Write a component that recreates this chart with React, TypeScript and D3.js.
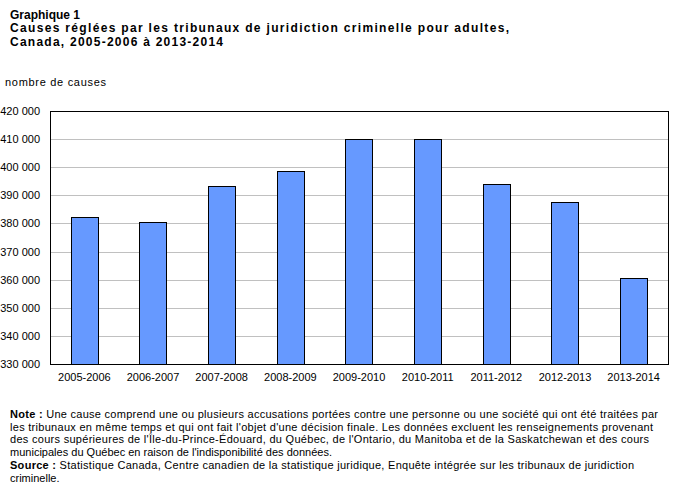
import * as d3 from "d3";
import React, { useEffect, useRef } from "react";

// chart data
const periods = [
  "2005-2006",
  "2006-2007",
  "2007-2008",
  "2008-2009",
  "2009-2010",
  "2010-2011",
  "2011-2012",
  "2012-2013",
  "2013-2014",
];
const cases = [382200, 380400, 393200, 398600, 410000, 410000, 393900, 387500, 360500];
const yTicks = [330000, 340000, 350000, 360000, 370000, 380000, 390000, 400000, 410000, 420000];

const titleLines = [
  "Graphique 1",
  "Causes réglées par les tribunaux de juridiction criminelle pour adultes,",
  "Canada, 2005-2006  à 2013-2014",
];
const noteLines = [
  "Une cause comprend une ou plusieurs accusations portées contre une personne ou une société qui ont été traitées par",
  "les tribunaux en même temps et qui ont fait l'objet d'une décision finale. Les données excluent les renseignements provenant",
  "des cours supérieures de l'Île-du-Prince-Édouard, du Québec, de l'Ontario, du Manitoba et de la Saskatchewan et des cours",
  "municipales du Québec en raison de l'indisponibilité des données.",
];
const sourceLines = [
  "Statistique Canada, Centre canadien de la statistique juridique, Enquête intégrée sur les tribunaux de juridiction",
  "criminelle.",
];

const App: React.FC = () => {
  const ref = useRef<HTMLDivElement>(null);

  useEffect(() => {
    if (!ref.current) return;
    document.body.style.margin = "0";
    d3.select(ref.current).selectAll("*").remove();

    const width = 678,
      height = 486,
      margin = { top: 111, right: 10, bottom: 122, left: 50 };
    const font = "Arial, 'Liberation Sans', sans-serif";

    const svg = d3
      .select(ref.current)
      .append("svg")
      .attr("width", width)
      .attr("height", height)
      .style("display", "block")
      .style("font-family", font);

    svg.append("rect").attr("width", width).attr("height", height).attr("fill", "#fff");

    // title (lines 2-3 stretched to match the original rendering)
    const titleWidths = [0, 499, 213];
    const titleBase = [19, 32, 45.5];
    titleLines.forEach((line, i) => {
      const t = svg
        .append("text")
        .attr("x", 10)
        .attr("y", titleBase[i])
        .attr("font-size", 12)
        .attr("font-weight", "bold")
        .text(line);
      if (titleWidths[i]) t.attr("textLength", titleWidths[i]).attr("lengthAdjust", "spacing");
    });

    svg
      .append("text")
      .attr("x", 5)
      .attr("y", 86)
      .attr("font-size", 11)
      .attr("textLength", 101)
      .attr("lengthAdjust", "spacing")
      .text("nombre de causes");

    const x = d3
      .scaleBand()
      .domain(periods)
      .range([margin.left, width - margin.right])
      .paddingInner(0.6)
      .paddingOuter(0.3);

    const y = d3
      .scaleLinear()
      .domain([330000, 420000])
      .range([height - margin.bottom, margin.top]);

    // gridlines
    svg
      .append("g")
      .selectAll("line")
      .data(yTicks.slice(1, -1))
      .enter()
      .append("line")
      .attr("x1", margin.left)
      .attr("x2", width - margin.right)
      .attr("y1", (d) => Math.round(y(d)) + 0.5)
      .attr("y2", (d) => Math.round(y(d)) + 0.5)
      .attr("stroke", "#c0c0c0");

    // bars
    svg
      .append("g")
      .selectAll("rect")
      .data(cases)
      .enter()
      .append("rect")
      .attr("x", (_, i) => Math.round(x(periods[i])!) + 0.5)
      .attr("y", (d) => Math.round(y(d)) + 0.5)
      .attr("width", Math.round(x.bandwidth()))
      .attr("height", (d) => Math.round(y(330000)) - Math.round(y(d)))
      .attr("fill", "#6699ff")
      .attr("stroke", "#000")
      .attr("stroke-width", 1);

    // plot frame
    svg
      .append("rect")
      .attr("x", margin.left + 0.5)
      .attr("y", Math.round(y(420000)) + 0.5)
      .attr("width", width - margin.right - margin.left)
      .attr("height", Math.round(y(330000)) - Math.round(y(420000)))
      .attr("fill", "none")
      .attr("stroke", "#000");

    // y axis labels
    const fmt = (v: number) => d3.format(",")(v).replace(",", " ");
    svg
      .append("g")
      .attr("transform", `translate(${margin.left},0)`)
      .call(d3.axisLeft(y).tickValues(yTicks).tickSize(0).tickPadding(10).tickFormat((d) => fmt(d as number)))
      .call((g) => g.select(".domain").remove())
      .selectAll("text")
      .attr("font-size", 11)
      .attr("font-family", font)
      .attr("fill", "#000");

    // x axis labels
    svg
      .append("g")
      .attr("transform", `translate(0,${height - margin.bottom})`)
      .call(d3.axisBottom(x).tickSize(0).tickPadding(9))
      .call((g) => g.select(".domain").remove())
      .selectAll("text")
      .attr("font-size", 11)
      .attr("font-family", font)
      .attr("fill", "#000");

    // notes
    const notes = svg.append("g").attr("font-size", 11);
    const lineH = 12.7;
    const noteY = 418;
    const allLines = [...noteLines, ...sourceLines];
    const lineWidths = [648, 643, 639, 322, 624, 0];
    allLines.forEach((line, i) => {
      const t = notes.append("text").attr("x", 10).attr("y", noteY + i * lineH);
      if (i === 0) t.append("tspan").attr("font-weight", "bold").text("Note : ");
      if (i === noteLines.length) t.append("tspan").attr("font-weight", "bold").text("Source : ");
      t.append("tspan").text(line);
      if (lineWidths[i]) t.attr("textLength", lineWidths[i]).attr("lengthAdjust", "spacing");
    });
  }, []);

  return <div ref={ref}></div>;
};

export default App;
